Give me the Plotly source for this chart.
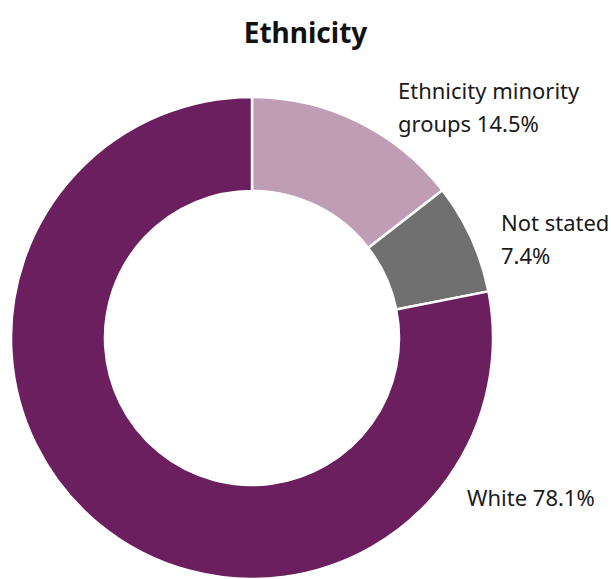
import plotly.graph_objects as go

categories = ["Ethnicity minority groups", "Not stated", "White"]
values = [14.5, 7.4, 78.1]
label_line1 = ["Ethnicity minority", "Not stated", "White"]
label_line2 = ["groups", "", ""]
colors = ["#BF9DB5", "#707070", "#6B1F5E"]

W, H = 611, 579

fig = go.Figure(go.Pie(
    labels=categories,
    values=values,
    hole=0.61,
    sort=False,
    direction="clockwise",
    rotation=0,
    marker=dict(colors=colors, line=dict(color="white", width=2.5)),
    textinfo="none",
    hoverinfo="label+percent",
    domain=dict(x=[11 / W, 493 / W], y=[0, 482 / H]),
    showlegend=False,
))

label_pos = [(396, 90), (499, 222), (465, 497)]
line_gap = 33
font = dict(family="Noto Sans", size=22, color="#1a1a1a")
for (px, py), l1, l2, v in zip(label_pos, label_line1, label_line2, values):
    pct = f"{v}%"
    if l2 or l1 != "White":
        lines = [l1, (l2 + " " + pct).strip()]
    else:
        lines = [l1 + " " + pct]
    for i, t in enumerate(lines):
        fig.add_annotation(
            x=px / W, y=1 - (py + i * line_gap) / H, xref="paper", yref="paper",
            xanchor="left", yanchor="middle", align="left",
            text=t, showarrow=False, font=font,
        )

fig.update_layout(
    width=W, height=H,
    margin=dict(l=0, r=0, t=0, b=0),
    paper_bgcolor="white", plot_bgcolor="white",
    title=dict(text="<b>Ethnicity</b>", x=0.5, xanchor="center", y=1 - 33 / H, yanchor="middle",
               font=dict(family="Noto Sans", size=28, color="#111111")),
)

fig.write_html("out.html")
